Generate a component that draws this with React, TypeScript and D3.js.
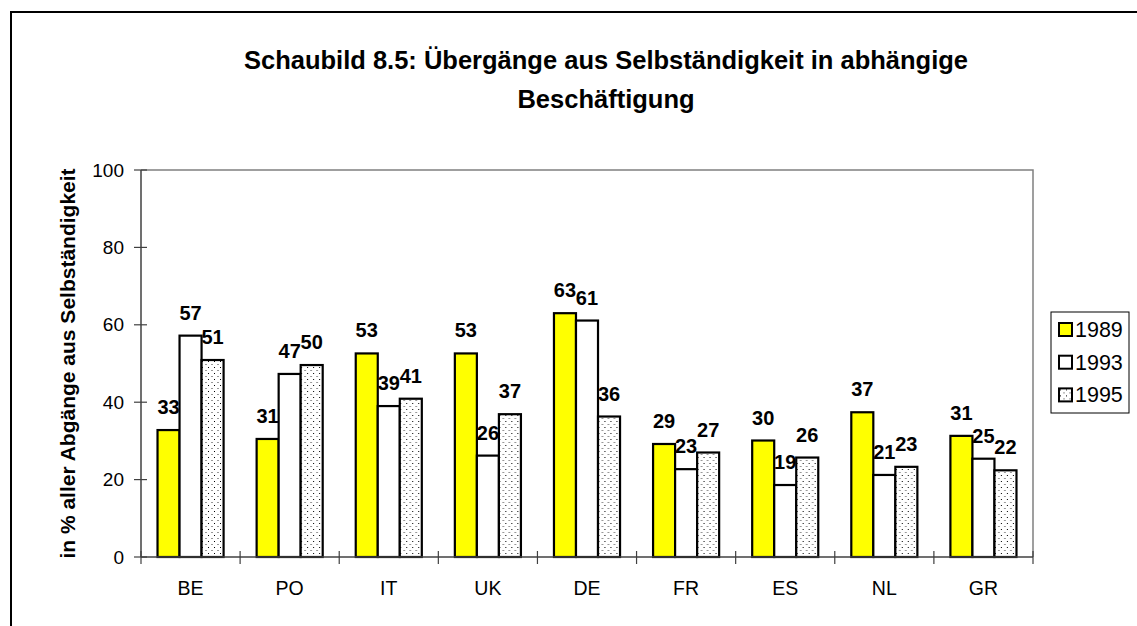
import React, { useEffect } from "react";
import * as d3 from "d3";

const countries = ["BE", "PO", "IT", "UK", "DE", "FR", "ES", "NL", "GR"];
const years = ["1989", "1993", "1995"];
const values1989 = [32.8, 30.5, 52.6, 52.6, 63.0, 29.2, 30.1, 37.4, 31.3];
const values1993 = [57.2, 47.3, 39.0, 26.2, 61.1, 22.7, 18.6, 21.2, 25.4];
const values1995 = [50.9, 49.6, 40.9, 36.9, 36.3, 27.0, 25.7, 23.3, 22.4];
const yTicks = [0, 20, 40, 60, 80, 100];

const titleLines = [
  "Schaubild 8.5: Übergänge aus Selbständigkeit in abhängige",
  "Beschäftigung",
];
const yTitle = "in % aller Abgänge aus Selbständigkeit";

const font = "'Liberation Sans', Arial, sans-serif";

function App() {
  useEffect(() => {
    // remove default body margin
    document.body.style.margin = "0";
  }, []);

  const width = 1137;
  const height = 626;
  const plot = { left: 141, right: 1033, top: 170, bottom: 557 };

  const series = [values1989, values1993, values1995];
  const fills = ["#ffff00", "#ffffff", "url(#dots)"];

  const x0 = d3
    .scaleBand()
    .domain(countries)
    .range([plot.left, plot.right])
    .padding(0);
  const bw = x0.bandwidth();
  const x1 = d3
    .scaleBand()
    .domain(years)
    .range([bw / 6, (bw * 5) / 6])
    .padding(0);
  const y = d3.scaleLinear().domain([0, 100]).range([plot.bottom, plot.top]);
  const fmt = d3.format(".0f");

  return (
    <svg width={width} height={height} style={{ display: "block", fontFamily: font }}>
      <defs>
        <pattern id="dots" width="6" height="6" patternUnits="userSpaceOnUse">
          <rect width="6" height="6" fill="#fff" />
          <rect x="1" y="1" width="1" height="1" fill="#000" />
          <rect x="4" y="4" width="2" height="1" fill="#999" />
        </pattern>
      </defs>
      <rect x={0} y={0} width={width} height={height} fill="#fff" />
      {/* outer frame */}
      <rect x={11} y={12} width={1160} height={660} fill="none" stroke="#000" strokeWidth={2} />

      {/* title */}
      {titleLines.map((t, i) => (
        <text
          key={i}
          x={606}
          y={69 + i * 39}
          textAnchor="middle"
          fontSize={25.5}
          fontWeight="bold"
        >
          {t}
        </text>
      ))}

      {/* plot border */}
      <path
        d={`M${plot.left},${plot.top}H${plot.right}V${plot.bottom}`}
        fill="none"
        stroke="#808080"
        strokeWidth={1.5}
      />

      {/* bars */}
      {countries.map((c, i) => (
        <g key={c} transform={`translate(${x0(c)},0)`}>
          {series.map((s, j) => (
            <rect
              key={j}
              x={x1(years[j])}
              y={y(s[i])}
              width={x1.bandwidth()}
              height={y(0) - y(s[i])}
              fill={fills[j]}
              stroke="#000"
              strokeWidth={2.2}
            />
          ))}
          {series.map((s, j) => (
            <text
              key={"l" + j}
              x={x1(years[j]) + x1.bandwidth() / 2}
              y={y(s[i]) - 16}
              textAnchor="middle"
              fontSize={20}
              fontWeight="bold"
            >
              {fmt(s[i])}
            </text>
          ))}
        </g>
      ))}

      {/* y axis */}
      <line x1={plot.left} x2={plot.left} y1={plot.top} y2={plot.bottom} stroke="#404040" strokeWidth={1.5} />
      {yTicks.map((t) => (
        <g key={t}>
          <line x1={plot.left - 7} x2={plot.left + 6} y1={y(t)} y2={y(t)} stroke="#404040" strokeWidth={1.2} />
          <text x={plot.left - 17} y={y(t) + 6.5} textAnchor="end" fontSize={19}>
            {t}
          </text>
        </g>
      ))}
      <text
        transform={`translate(75,${(plot.top + plot.bottom) / 2}) rotate(-90)`}
        textAnchor="middle"
        fontSize={21}
        fontWeight="bold"
      >
        {yTitle}
      </text>

      {/* x axis */}
      <line x1={plot.left} x2={plot.right} y1={plot.bottom} y2={plot.bottom} stroke="#404040" strokeWidth={1.5} />
      {[...countries.map((c) => x0(c)), plot.right].map((v, i) => (
        <line key={i} x1={v} x2={v} y1={plot.bottom - 6} y2={plot.bottom + 7} stroke="#404040" strokeWidth={1.2} />
      ))}
      {countries.map((c) => (
        <text key={c} x={x0(c) + bw / 2} y={595} textAnchor="middle" fontSize={19.5}>
          {c}
        </text>
      ))}

      {/* legend */}
      <rect x={1051} y={312} width={78} height={101} fill="#fff" stroke="#000" strokeWidth={1} />
      {years.map((yr, i) => (
        <g key={yr} transform={`translate(1059,${323 + i * 32.7})`}>
          <rect x={0} y={0} width={13} height={13} fill={fills[i]} stroke="#000" strokeWidth={2} />
          <text x={16} y={14} fontSize={21.5}>
            {yr}
          </text>
        </g>
      ))}
    </svg>
  );
}

export default App;
